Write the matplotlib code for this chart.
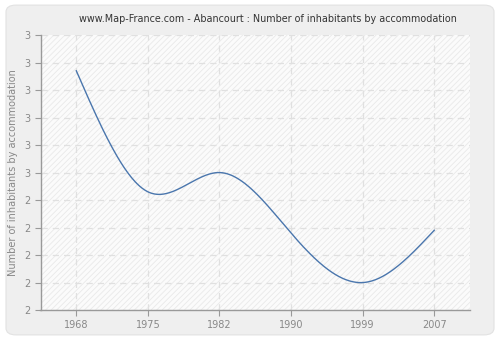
import numpy as np
import matplotlib
matplotlib.use('Agg')
from matplotlib import pyplot as plt
from matplotlib.patches import FancyBboxPatch, Rectangle

# data
years = ['1968', '1975', '1982', '1990', '1999', '2007']
values = [2.87, 2.43, 2.50, 2.28, 2.10, 2.29]
y_ticks = [2.0, 2.1, 2.2, 2.3, 2.4, 2.5, 2.6, 2.7, 2.8, 2.9, 3.0]
y_labels = ['2', '2', '2', '2', '2', '3', '3', '3', '3', '3', '3']


def natural_spline(x, y, n=300):
    # natural cubic spline, only used to draw the smooth line
    x = np.asarray(x, float)
    y = np.asarray(y, float)
    k = len(x)
    h = np.diff(x)
    A = np.zeros((k, k))
    b = np.zeros(k)
    A[0, 0] = A[-1, -1] = 1
    for i in range(1, k - 1):
        A[i, i - 1] = h[i - 1]
        A[i, i] = 2 * (h[i - 1] + h[i])
        A[i, i + 1] = h[i]
        b[i] = 6 * ((y[i + 1] - y[i]) / h[i] - (y[i] - y[i - 1]) / h[i - 1])
    M = np.linalg.solve(A, b)
    xs = np.linspace(x[0], x[-1], n)
    idx = np.clip(np.searchsorted(x, xs) - 1, 0, k - 2)
    x0, x1 = x[idx], x[idx + 1]
    hh = x1 - x0
    ys = (M[idx] * (x1 - xs) ** 3 / (6 * hh) + M[idx + 1] * (xs - x0) ** 3 / (6 * hh)
          + (y[idx] / hh - M[idx] * hh / 6) * (x1 - xs)
          + (y[idx + 1] / hh - M[idx + 1] * hh / 6) * (xs - x0))
    return xs, ys


plt.rcParams['hatch.linewidth'] = 0.6

fig = plt.figure(figsize=(5, 3.4), dpi=100)
fig.patch.set_facecolor('white')

# outer rounded panel
panel = FancyBboxPatch((0.012, 0.015), 0.976, 0.97,
                       boxstyle='round,pad=0,rounding_size=0.02',
                       transform=fig.transFigure, facecolor='#efefef',
                       edgecolor='#e2e2e2', linewidth=0.8, zorder=0)
fig.patches.append(panel)

ax = fig.add_axes([0.081, 0.088, 0.859, 0.809])
ax.set_zorder(2)
ax.set_facecolor('#fbfbfb')
ax.add_patch(Rectangle((0, 0), 1, 1, transform=ax.transAxes, facecolor='none',
                       edgecolor='#e9e9e9', hatch='//////', linewidth=0, zorder=0))

x = np.arange(len(years))
xs, ys = natural_spline(x, values)
ax.plot(xs, ys, color='#4a76ad', linewidth=1.0, zorder=3)

ax.set_xlim(-0.5, 5.5)
ax.set_ylim(2.0, 3.0)
ax.set_xticks(x)
ax.set_xticklabels(years)
ax.set_yticks(y_ticks)
ax.set_yticklabels(y_labels)

ax.grid(True, color='#e0e0e0', linestyle=(0, (5, 4)), linewidth=0.9)
ax.set_axisbelow(True)

for s in ['top', 'right']:
    ax.spines[s].set_visible(False)
for s in ['left', 'bottom']:
    ax.spines[s].set_color('#999999')
    ax.spines[s].set_linewidth(1.0)

ax.tick_params(colors='#999999', labelcolor='#888888', labelsize=7, length=4, width=0.8)
ax.set_ylabel('Number of inhabitants by accommodation', color='#888888', fontsize=7)

fig.text(0.535, 0.945, 'www.Map-France.com - Abancourt : Number of inhabitants by accommodation',
         ha='center', va='center', fontsize=6.9, color='#333333')

fig.savefig('out.png', dpi=100, facecolor=fig.get_facecolor())
